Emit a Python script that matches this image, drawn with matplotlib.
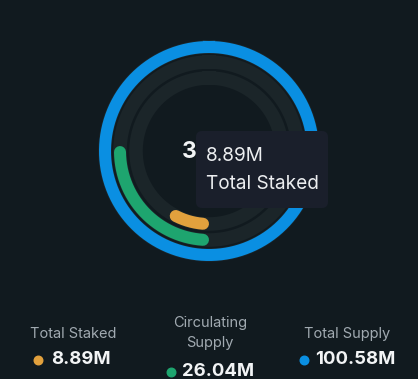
import numpy as np
import matplotlib.pyplot as plt
from matplotlib.patches import FancyBboxPatch

plt.rcParams['font.family'] = ['Inter', 'DejaVu Sans']

# data
labels = ['Total Staked', 'Circulating\nSupply', 'Total Supply']
values = [8.89, 26.04, 100.58]          # millions
value_text = ['8.89M', '26.04M', '100.58M']
colors = ['#e2a13d', '#1ea56f', '#0a8fe2']
radii = [73, 89, 104]                   # ring centre radius, px
center_label = '3'
tooltip_lines = ['8.89M', 'Total Staked']

bg = '#111a1f'
track = '#1b2529'

W, H = 418, 379
cx, cy, R = 209, 151, 112

fig = plt.figure(figsize=(W / 100, H / 100), dpi=100, facecolor=bg)

# rings
ax = fig.add_axes([(cx - R) / W, (H - cy - R) / H, 2 * R / W, 2 * R / H],
                  projection='polar')
ax.set_facecolor('none')
ax.set_theta_zero_location('N')
ax.set_theta_direction(-1)
ax.set_ylim(0, R)
ax.axis('off')

bar_px = 12
lw = bar_px * 0.72
total = max(values)
for v, c, r in zip(values, colors, radii):
    t = np.linspace(0, 2 * np.pi, 400)
    ax.plot(t, np.full_like(t, r), color=track, lw=13.5 * 0.72)
    span = v / total * 2 * np.pi
    if v >= total:
        t = np.linspace(0, 2 * np.pi, 400)
        ax.plot(t, np.full_like(t, r), color=c, lw=lw)
    else:
        # round caps kept inside the value's angle
        capa = (bar_px / 2) / r
        t = np.linspace(np.pi + capa, np.pi + span - capa, 300)
        ax.plot(t, np.full_like(t, r), color=c, lw=lw, solid_capstyle='round')

# overlay for text and tooltip
ov = fig.add_axes([0, 0, 1, 1])
ov.set_xlim(0, W)
ov.set_ylim(H, 0)
ov.set_facecolor('none')
ov.axis('off')

ov.text(189, 152, center_label, color='#f2f4f5', fontsize=16.5,
        fontweight='bold', ha='center', va='center')

box = FancyBboxPatch((196, 131), 132, 77, boxstyle='round,pad=0,rounding_size=6',
                     fc='#1a1f2b', ec='none')
ov.add_patch(box)
ov.text(206, 156, tooltip_lines[0], color='#eceef0', fontsize=13.7,
        ha='left', va='center')
ov.text(206, 184, tooltip_lines[1], color='#eceef0', fontsize=13.7,
        ha='left', va='center')

# legend
lab_x = [73, 210, 347]
lab_y = [334, 333, 334]
val_y = [360, 372, 360]
for i in range(3):
    ov.text(lab_x[i], lab_y[i], labels[i], color='#a1aab1', fontsize=10.5,
            ha='center', va='center', linespacing=1.6)
    ov.text(lab_x[i] + 8, val_y[i], value_text[i], color='#f2f4f5',
            fontsize=13.3, fontweight='bold', ha='center', va='center')
    ov.scatter(lab_x[i] - 35 - 4 * len(value_text[i]) + 20, val_y[i], s=38,
               color=colors[i], zorder=3)

plt.savefig('out.png', dpi=100, facecolor=bg)
plt.close('all')
